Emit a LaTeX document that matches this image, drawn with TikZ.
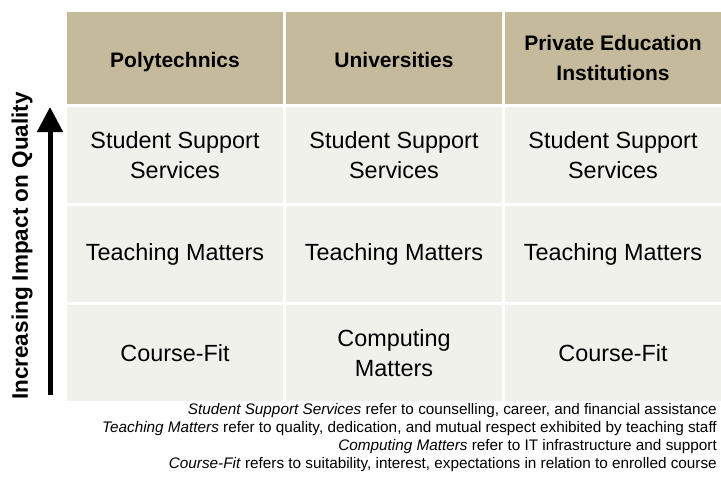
\documentclass[tikz,border=0pt]{standalone}
\usepackage{fontspec}
\setmainfont{Liberation Sans}
\usetikzlibrary{arrows.meta}
\definecolor{headtan}{RGB}{197,186,156}
\definecolor{cellgrey}{RGB}{241,241,236}
\tikzset{headcell/.style={fill=headtan,minimum width=216pt,minimum height=92pt,inner sep=0pt,align=center,font=\fontsize{21}{29.5}\selectfont\bfseries},
oneline/.style={text height=19pt,text depth=0pt},
bodycell/.style={fill=cellgrey,minimum width=216pt,minimum height=96pt,inner sep=0pt,align=center,font=\fontsize{23.4}{30}\selectfont}}

\begin{document}
\begin{tikzpicture}[x=1pt,y=-1pt]
\useasboundingbox (0,0) rectangle (721,477);
% header row
\node (hpoly) at (175,58) [headcell,oneline] {Polytechnics};
\node (huni) at (394,58) [headcell,oneline] {Universities};
\node (hpei) at (613,58) [headcell] {Private Education\\Institutions};

% top row
\node (poly1) at (175,155) [bodycell] {Student Support\\Services};
\node (uni1) at (394,155) [bodycell] {Student Support\\Services};
\node (pei1) at (613,155) [bodycell] {Student Support\\Services};
% middle row
\node (poly2) at (175,254) [bodycell] {Teaching Matters};
\node (uni2) at (394,254) [bodycell] {Teaching Matters};
\node (pei2) at (613,254) [bodycell] {Teaching Matters};
% bottom row
\node (poly3) at (175,353) [bodycell] {Course-Fit};
\node (uni3) at (394,353) [bodycell] {Computing\\Matters};
\node (pei3) at (613,353) [bodycell] {Course-Fit};

% impact arrow
\coordinate (afoot) at (50,395);
\coordinate (atip) at (50,107);
\draw [-{Triangle[width=25pt,length=25pt]}, line width=5pt] (afoot) -- (atip);
\node (alabel) at (22,246) [rotate=90,font=\fontsize{22.5}{26}\selectfont\bfseries] {Increasing Impact on Quality};

% notes
\node (notes) at (717,438) [anchor=east,inner sep=0pt,align=right,font=\fontsize{15.3}{18}\selectfont]
{\textit{Student Support Services} refer to counselling, career, and financial assistance\\
\textit{Teaching Matters} refer to quality, dedication, and mutual respect exhibited by teaching staff\\
\textit{Computing Matters} refer to IT infrastructure and support\\
\textit{Course-Fit} refers to suitability, interest, expectations in relation to enrolled course};
\end{tikzpicture}
\end{document}
